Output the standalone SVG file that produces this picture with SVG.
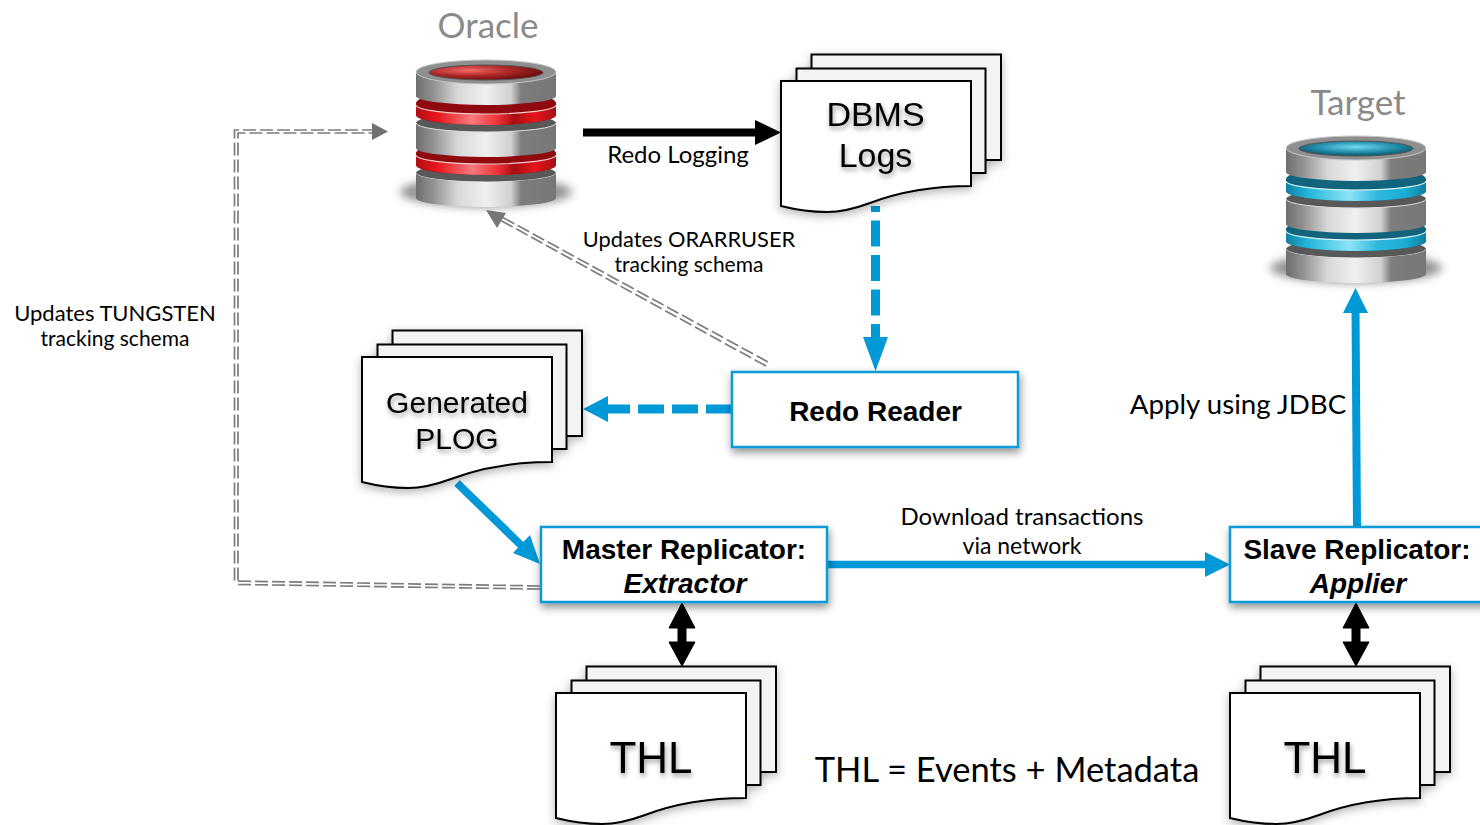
<svg xmlns="http://www.w3.org/2000/svg" width="1480" height="825" viewBox="0 0 1480 825">
<style>
.lbl{font-family:"Lato","Noto Sans",sans-serif;fill:#000;text-anchor:middle}
.s21{font-size:21px}
.s218{font-size:21.800px}
.s22{font-size:22px}
.s23{font-size:23px}
.s24{font-size:24px}
.ttl{font-family:"Lato","Noto Sans",sans-serif;fill:#8a8a8a;font-size:35px;text-anchor:middle}
.doc{font-family:"Liberation Sans",Arial,sans-serif;fill:#000;text-anchor:middle}
.box{fill:#fff;stroke:#0a9bd8;stroke-width:2.5}
.bt{font-family:"Liberation Sans",Arial,sans-serif;font-weight:700;font-size:28px;fill:#000;text-anchor:middle}
.pg{fill:#fff;stroke:#000;stroke-width:2}
.pgb{fill:#f3f3f3;stroke:#000;stroke-width:2}
.blue{fill:none;stroke:#0099d8}
.g1{fill:none;stroke:#7c7c7c;stroke-width:1.7;stroke-dasharray:13 4}
</style>
<defs>
<filter id="sh" x="-20%" y="-20%" width="140%" height="140%"><feDropShadow dx="1" dy="4" stdDeviation="4" flood-color="#000" flood-opacity="0.45"/></filter>
<filter id="dsh" x="-20%" y="-20%" width="140%" height="140%"><feDropShadow dx="0" dy="3" stdDeviation="5" flood-color="#000" flood-opacity="0.3"/></filter>
<filter id="tsh" x="-20%" y="-30%" width="140%" height="170%"><feDropShadow dx="1" dy="3" stdDeviation="2.5" flood-color="#000" flood-opacity="0.4"/></filter>
<filter id="blur" x="-20%" y="-50%" width="140%" height="200%"><feGaussianBlur stdDeviation="5"/></filter>
<linearGradient id="metal" x1="0" x2="1" y1="0" y2="0">
<stop offset="0" stop-color="#6f6f6f"/><stop offset="0.12" stop-color="#909090"/><stop offset="0.3" stop-color="#d8d8d8"/><stop offset="0.5" stop-color="#f0f0f0"/><stop offset="0.68" stop-color="#cfcfcf"/><stop offset="0.75" stop-color="#7d7d7d"/><stop offset="1" stop-color="#777"/>
</linearGradient>
<linearGradient id="red" x1="0" x2="1" y1="0" y2="0">
<stop offset="0" stop-color="#b01015"/><stop offset="0.15" stop-color="#e8141c"/><stop offset="0.4" stop-color="#f77a7e"/><stop offset="0.58" stop-color="#ee3338"/><stop offset="0.7" stop-color="#a80d12"/><stop offset="0.85" stop-color="#e8141c"/><stop offset="1" stop-color="#a01015"/>
</linearGradient>
<linearGradient id="cyan" x1="0" x2="1" y1="0" y2="0">
<stop offset="0" stop-color="#13809f"/><stop offset="0.15" stop-color="#20b4d8"/><stop offset="0.45" stop-color="#8be4f8"/><stop offset="0.65" stop-color="#30b8dc"/><stop offset="0.85" stop-color="#1aaed4"/><stop offset="1" stop-color="#10809f"/>
</linearGradient>
<radialGradient id="redtop" cx="0.35" cy="0.35" r="0.7"><stop offset="0" stop-color="#f26a66"/><stop offset="0.5" stop-color="#b02a28"/><stop offset="1" stop-color="#6a0a0c"/></radialGradient>
<radialGradient id="cyantop" cx="0.5" cy="0.4" r="0.6"><stop offset="0" stop-color="#6fdcf2"/><stop offset="0.6" stop-color="#1f8ba8"/><stop offset="1" stop-color="#0f5468"/></radialGradient>
<g id="stack">
<path class="pgb" d="M30.500 -26.500H220V79H30.500Z"/>
<path class="pgb" d="M15.500 -12.500H204.500V92H15.500Z"/>
<path class="pg" d="M0 0H190V105C140 105 110 114 89 122C70 129 56 131 46 131C30 131 12 128 0 125Z"/>
</g>
<g id="seg">
<ellipse cx="70" cy="63" rx="70" ry="10" fill="#585858"/>
<path d="M0 63A70 9 0 0 0 140 63V88A70 9 0 0 1 0 88Z" fill="url(#metal)"/>
<path d="M0 63A70 9 0 0 0 140 63" fill="none" stroke="#dcdcdc" stroke-width="1"/>
</g>
<g id="metalbase">
<ellipse cx="70" cy="132" rx="86" ry="15" fill="#555" opacity=".65" filter="url(#blur)"/>
<use href="#seg" y="50"/>
<path d="M0 113V137A70 9 0 0 0 140 137V113A70 9 0 0 1 0 113Z" fill="url(#metal)"/>
</g>
<g id="metaltop">
<path d="M0 12A70 10 0 0 0 140 12V36A70 9 0 0 1 0 36Z" fill="url(#metal)"/>
<ellipse cx="70" cy="12" rx="70" ry="12" fill="#8f8f8f" stroke="#c4c4c4" stroke-width="1"/>
</g>
</defs>

<g id="connectors">
<path class="g1" d="M540 586L234.500 581V130H372"/>
<path class="g1" d="M540 589L238 584.500V133H372"/>
<path d="M372 123L388 131.500L372 140Z" fill="#707070"/>
<path class="g1" d="M766 366L500 220"/>
<path class="g1" d="M768 362L502 217"/>
<path d="M486 210L506 213L497 228Z" fill="#777"/>
<path d="M583 132.500H760" stroke="#000" stroke-width="8" fill="none"/>
<path d="M755 120L781 132.500L755 145Z" fill="#000"/>
<path class="blue" d="M875.500 350V206" stroke-width="9" stroke-dasharray="26 8.500"/>
<path d="M863 337H888L875.500 371Z" fill="#0099d8"/>
<path class="blue" d="M732 409H608" stroke-width="9" stroke-dasharray="26 8"/>
<path d="M608 396V422L583 409Z" fill="#0099d8"/>
<path class="blue" d="M457 483L525 549" stroke-width="8"/>
<path d="M540 564L513 553L530 535Z" fill="#0099d8"/>
<path class="blue" d="M828 564.500H1208" stroke-width="7.500"/>
<path d="M1205 552L1230 564.500L1205 577Z" fill="#0099d8"/>
<path class="blue" d="M1357 527L1355.500 310" stroke-width="8"/>
<path d="M1343 313L1355.500 288L1368 313Z" fill="#0099d8"/>
<path d="M682 603L695 628H686V642H695L682 666L669 642H678V628H669Z" fill="#000" stroke="#000" stroke-width="1"/>
<path d="M1356 603L1369 628H1360V642H1369L1356 666L1343 642H1352V628H1343Z" fill="#000" stroke="#000" stroke-width="1"/>
</g>

<g id="oracle-db">
<text class="ttl" x="488" y="38">Oracle</text>
<g transform="translate(416 60)">
<use href="#metalbase"/>
<path d="M0 93A70 12 0 0 1 140 93V105A70 10 0 0 1 0 105Z" fill="#8e0a0e"/>
<path d="M0 95A70 9 0 0 0 140 95V105A70 10 0 0 1 0 105Z" fill="url(#red)"/>
<path d="M0 95A70 9 0 0 0 140 95" fill="none" stroke="#f6c8c8" stroke-width="1.200"/>
<use href="#seg"/>
<path d="M0 43A70 12 0 0 1 140 43V55A70 10 0 0 1 0 55Z" fill="#8e0a0e"/>
<path d="M0 45A70 9 0 0 0 140 45V55A70 10 0 0 1 0 55Z" fill="url(#red)"/>
<path d="M0 45A70 9 0 0 0 140 45" fill="none" stroke="#f6c8c8" stroke-width="1.200"/>
<use href="#metaltop"/>
<ellipse cx="70" cy="12.500" rx="57" ry="7.500" fill="url(#redtop)" stroke="#555" stroke-width="1"/>
</g>
</g>

<g id="target-db">
<text class="ttl" x="1358" y="115">Target</text>
<g transform="translate(1286 136)">
<use href="#metalbase"/>
<path d="M0 93A70 12 0 0 1 140 93V105A70 10 0 0 1 0 105Z" fill="#11647c"/>
<path d="M0 95A70 9 0 0 0 140 95V105A70 10 0 0 1 0 105Z" fill="url(#cyan)"/>
<path d="M0 95A70 9 0 0 0 140 95" fill="none" stroke="#d8f4fb" stroke-width="1.200"/>
<use href="#seg"/>
<path d="M0 43A70 12 0 0 1 140 43V55A70 10 0 0 1 0 55Z" fill="#11647c"/>
<path d="M0 45A70 9 0 0 0 140 45V55A70 10 0 0 1 0 55Z" fill="url(#cyan)"/>
<path d="M0 45A70 9 0 0 0 140 45" fill="none" stroke="#d8f4fb" stroke-width="1.200"/>
<use href="#metaltop"/>
<ellipse cx="70" cy="12.500" rx="57" ry="7.500" fill="url(#cyantop)" stroke="#555" stroke-width="1"/>
</g>
</g>

<g id="dbms-logs">
<use href="#stack" transform="translate(781 81)" filter="url(#dsh)"/>
<g class="doc" font-size="34" filter="url(#tsh)"><text x="875.500" y="126">DBMS</text><text x="875.500" y="167">Logs</text></g>
</g>

<g id="generated-plog">
<use href="#stack" transform="translate(362 357)" filter="url(#dsh)"/>
<g class="doc" font-size="30" filter="url(#tsh)"><text x="457" y="413">Generated</text><text x="457" y="449">PLOG</text></g>
</g>

<g id="redo-reader">
<rect class="box" x="732" y="372" width="286" height="75" filter="url(#sh)"/>
<text class="bt" x="875.500" y="421">Redo Reader</text>
</g>

<g id="master-replicator">
<rect class="box" x="541" y="527" width="286" height="75" filter="url(#sh)"/>
<text class="bt" x="684" y="559">Master Replicator:</text>
<text class="bt" x="685" y="593" font-style="italic">Extractor</text>
</g>

<g id="slave-replicator">
<rect class="box" x="1230" y="527" width="286" height="75" filter="url(#sh)"/>
<text class="bt" x="1357" y="559">Slave Replicator:</text>
<text class="bt" x="1358" y="593" font-style="italic">Applier</text>
</g>

<g id="thl-master">
<use href="#stack" transform="translate(556 693)" filter="url(#dsh)"/>
<text class="doc" font-size="44" x="651" y="773" filter="url(#tsh)">THL</text>
</g>

<g id="thl-slave">
<use href="#stack" transform="translate(1230 693)" filter="url(#dsh)"/>
<text class="doc" font-size="44" x="1325" y="773" filter="url(#tsh)">THL</text>
</g>

<g id="labels">
<text class="lbl s24" x="678" y="163">Redo Logging</text>
<text class="lbl s218" x="689" y="247">Updates ORARRUSER</text>
<text class="lbl s21" x="689" y="272">tracking schema</text>
<text class="lbl s22" x="115" y="321">Updates TUNGSTEN</text>
<text class="lbl s21" x="115" y="346">tracking schema</text>
<text class="lbl" font-size="27.700" x="1238" y="414">Apply using JDBC</text>
<text class="lbl s24" x="1022" y="525">Download transactions</text>
<text class="lbl s23" x="1022" y="554">via network</text>
<text class="lbl" font-size="34.500" x="1007" y="782">THL = Events + Metadata</text>
</g>
</svg>
